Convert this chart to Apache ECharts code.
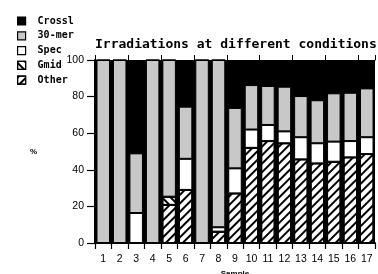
<!DOCTYPE html>
<html>
<head>
<meta charset="utf-8">
<script src="https://cdn.jsdelivr.net/npm/echarts@6/dist/echarts.min.js"></script>
<style>
html,body{margin:0;padding:0;background:#fff;}
#c{width:378px;height:274px;}
</style>
</head>
<body>
<div id="c"></div>
<script>
var categories = ['1','2','3','4','5','6','7','8','9','10','11','12','13','14','15','16','17'];
var other  = [0, 0, 0, 0, 20.8, 29, 0, 6.2, 27.1, 52, 55.7, 54.5, 45.7, 43.5, 44.4, 46.8, 48.6];
var gmid   = [0, 0, 0, 0, 4.5, 0, 0, 0, 0, 0, 0, 0, 0, 0, 0, 0, 0];
var spec   = [0, 0, 16.4, 0, 0, 17, 0, 2.4, 13.7, 10, 8.8, 6.5, 12.1, 11, 11, 8.9, 9.2];
var mer30  = [100, 100, 32.6, 100, 74.7, 28.5, 100, 91.4, 33, 24.3, 21.3, 24.4, 22.5, 23.5, 26.4, 26.4, 26.7];
var crossl = [0, 0, 51, 0, 0, 25.5, 0, 0, 26.2, 13.7, 14.2, 14.6, 19.7, 22, 18.2, 17.9, 15.5];
var yTicks = [0, 20, 40, 60, 80, 100];
var legendNames = ['Crossl', '30-mer', 'Spec', 'Gmid', 'Other'];

var chart = echarts.init(document.getElementById('c'), null, {renderer: 'canvas'});

function mk(name, data, color, decal) {
  var s = {
    name: name, type: 'bar', stack: 'all', data: data,
    barCategoryGap: '18%',
    itemStyle: {color: color, borderColor: '#000', borderWidth: 1},
    emphasis: {disabled: true},
    animation: false
  };
  if (decal) s.itemStyle.decal = decal;
  return s;
}
var hatchOther = {symbol: 'rect', symbolSize: 1, dashArrayX: [1, 0], dashArrayY: [1.3, 3.2], rotation: -Math.PI / 4, color: '#000'};
var hatchGmid = {symbol: 'rect', symbolSize: 1, dashArrayX: [1, 0], dashArrayY: [1.3, 3.2], rotation: Math.PI / 4, color: '#000'};

var mono = 'DejaVu Sans Mono';
chart.setOption({
  animation: false,
  backgroundColor: '#fff',
  title: {
    text: 'Irradiations at different conditions',
    left: 90, top: 33,
    textStyle: {fontFamily: mono, fontWeight: 'bold', fontSize: 13, color: '#000'}
  },
  legend: {
    data: legendNames,
    orient: 'vertical', left: 12, top: 11,
    itemWidth: 8, itemHeight: 8, itemGap: 4.8,
    icon: 'rect',
    itemStyle: {borderColor: '#000', borderWidth: 1.2},
    textStyle: {fontFamily: mono, fontWeight: 'bold', fontSize: 10, lineHeight: 10, color: '#000', padding: [0, 0, 0, 7]},
    selectedMode: false
  },
  grid: {left: 95, right: 3, top: 60, bottom: 31, show: true, backgroundColor: '#000', borderWidth: 0, containLabel: false, outerBoundsMode: 'none'},
  xAxis: [{
    type: 'category', data: categories, position: 'bottom',
    boundaryGap: true,
    name: 'Sample', nameLocation: 'middle', nameGap: 26,
    nameTextStyle: {fontFamily: 'Liberation Sans', fontWeight: 'bold', fontSize: 8, color: '#000'},
    axisLine: {show: true, lineStyle: {color: '#000', width: 2}},
    axisTick: {show: true, length: 6, lineStyle: {color: '#000', width: 1.2}},
    axisLabel: {margin: 11, fontFamily: 'Liberation Sans', fontSize: 10.5, color: '#000', interval: 0},
    splitLine: {show: false}
  }, {
    type: 'category', data: categories, position: 'top',
    boundaryGap: true,
    axisLine: {show: true, lineStyle: {color: '#000', width: 1}},
    axisTick: {show: true, length: 5, lineStyle: {color: '#000', width: 1}},
    axisLabel: {show: false},
    splitLine: {show: false}
  }],
  yAxis: {
    type: 'value', min: yTicks[0], max: yTicks[yTicks.length - 1], interval: 20,
    name: '%', nameLocation: 'middle', nameRotate: 0, nameGap: 58,
    nameTextStyle: {fontFamily: 'Liberation Sans', fontWeight: 'bold', fontSize: 8, color: '#000'},
    axisLine: {show: true, lineStyle: {color: '#000', width: 2}},
    axisTick: {show: true, length: 8, lineStyle: {color: '#000', width: 1.2}},
    axisLabel: {margin: 11, fontFamily: 'Liberation Sans', fontSize: 10.5, color: '#000'},
    splitLine: {show: false}
  },
  series: [
    mk('Other', other, '#fff', hatchOther),
    mk('Gmid', gmid, '#fff', hatchGmid),
    mk('Spec', spec, '#fff', null),
    mk('30-mer', mer30, '#c8c8c8', null),
    mk('Crossl', crossl, '#000', null)
  ]
});
</script>
</body>
</html>
